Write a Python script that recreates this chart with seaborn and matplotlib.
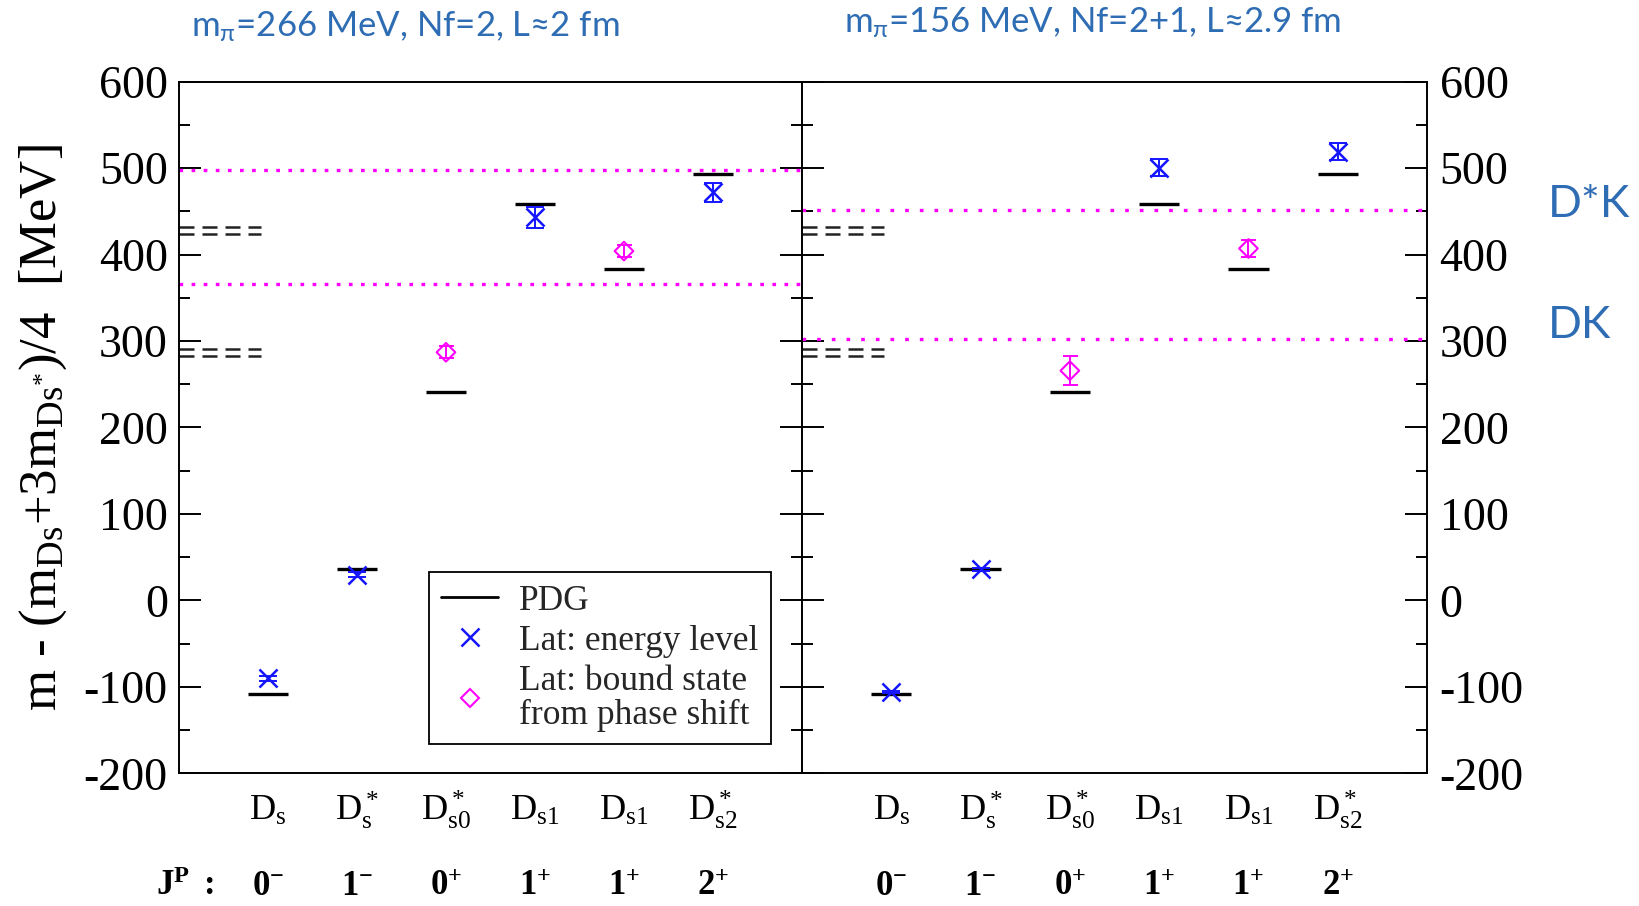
import numpy as np
import pandas as pd
import matplotlib
matplotlib.use("Agg")
import matplotlib.pyplot as plt
import seaborn as sns
from matplotlib.lines import Line2D
from matplotlib.ticker import MultipleLocator
from matplotlib.transforms import blended_transform_factory

# ---------------- data ----------------
positions = [1, 2, 3, 4, 5, 6]
state_labels = [r"$\mathrm{D_s}$", r"$\mathrm{D_s^*}$", r"$\mathrm{D_{s0}^*}$",
                r"$\mathrm{D_{s1}}$", r"$\mathrm{D_{s1}}$", r"$\mathrm{D_{s2}^*}$"]
jp_labels = [r"$\mathbf{0^{-}}$", r"$\mathbf{1^{-}}$", r"$\mathbf{0^{+}}$",
             r"$\mathbf{1^{+}}$", r"$\mathbf{1^{+}}$", r"$\mathbf{2^{+}}$"]
pdg = [-107.9, 36.0, 241.6, 458.9, 383.3, 492.9]

exp_thresholds = [282.3, 290.9, 424.3, 431.7]   # DK and D*K (physical)

left_level_pos = [1, 2, 4, 6]
left_level = [-90, 30, 443, 472]
left_level_err = [3, 3, 12.5, 11]
left_bound_pos = [3, 5]
left_bound = [287, 404]
left_bound_err = [7, 7]
left_thresholds = [498, 365.5]

right_level_pos = [1, 2, 4, 6]
right_level = [-106, 36, 500.6, 519]
right_level_err = [1.5, 1.5, 10, 10]
right_bound_pos = [3, 5]
right_bound = [265.7, 407]
right_bound_err = [17, 10]
right_thresholds = [451, 302]

titles = [r"m$_{\mathsf{\pi}}$=266 MeV, Nf=2, L≈2 fm",
          r"m$_{\mathsf{\pi}}$=156 MeV, Nf=2+1, L≈2.9 fm"]
legend_labels = ["PDG", "Lat: energy level", "Lat: bound state\nfrom phase shift"]
ylabel = r"m - (m$_{\mathrm{Ds}}$+3m$_{\mathrm{Ds}^{*}}$)/4  [MeV]"

BLUE = "#1515ff"
MAG = "#ff00ff"
TXT_BLUE = "#2e6db4"

# ---------------- style ----------------
sns.set_theme(style="ticks")
plt.rcParams["font.family"] = ["Liberation Serif", "DejaVu Serif"]
plt.rcParams["axes.unicode_minus"] = False
plt.rcParams["mathtext.fontset"] = "custom"
plt.rcParams["mathtext.rm"] = "Liberation Serif"
plt.rcParams["mathtext.it"] = "Liberation Serif:italic"
plt.rcParams["mathtext.bf"] = "Liberation Serif:bold"
plt.rcParams["mathtext.sf"] = "Lato"

fig = plt.figure(figsize=(16.39, 9.06), dpi=100)
ax1 = fig.add_axes([0.1092, 0.1463, 0.3801, 0.7637])
ax2 = fig.add_axes([0.4893, 0.1463, 0.3814, 0.7637])

panels = [
    (ax1, left_level_pos, left_level, left_level_err, left_bound_pos, left_bound,
     left_bound_err, left_thresholds, 1.15),
    (ax2, right_level_pos, right_level, right_level_err, right_bound_pos, right_bound,
     right_bound_err, right_thresholds, 1.5),
]

for (ax, lp, lv, le, bp, bv, be, thr, dotgap) in panels:
    ax.set_xlim(0, 7)
    ax.set_ylim(-200, 600)
    # thresholds in this lattice
    for t in thr:
        ax.axhline(t, color=MAG, lw=2.4, dashes=(1.1, dotgap * 2.2), zorder=1)
    # physical thresholds (double dashed)
    ax.hlines(exp_thresholds, 0, 0.92, colors="#222222", lw=1.8,
              linestyles=[(0, (6.0, 3.2))], zorder=1)
    # PDG
    pos = np.asarray(positions, dtype=float)
    ax.hlines(pdg, pos - 0.225, pos + 0.225, colors="black", lw=2.4, zorder=2)
    # lattice energy levels
    ax.errorbar(lp, lv, yerr=le, fmt="none", ecolor=BLUE, elinewidth=1.4,
                capsize=6.5, capthick=1.4, zorder=3)
    sns.scatterplot(x=lp, y=lv, marker="x", s=13 ** 2, color=BLUE,
                    linewidth=1.8, ax=ax, zorder=4, legend=False)
    # bound states
    ax.errorbar(bp, bv, yerr=be, fmt="none", ecolor=MAG, elinewidth=1.4,
                capsize=5.4, capthick=1.4, zorder=3)
    sns.scatterplot(x=bp, y=bv, marker="D", s=9.5 ** 2, color=MAG,
                    facecolor="none", edgecolor=MAG, linewidth=1.5,
                    ax=ax, zorder=4, legend=False)

    ax.yaxis.set_major_locator(MultipleLocator(100))
    ax.yaxis.set_minor_locator(MultipleLocator(50))
    ax.tick_params(axis="y", which="major", direction="in", length=15.8,
                   width=1.4, labelsize=33, color="black", labelcolor="black")
    ax.tick_params(axis="y", which="minor", direction="in", length=8,
                   width=1.4, color="black")
    ax.tick_params(axis="y", which="both", left=True, right=True)
    ax.set_xticks(positions, state_labels)
    ax.tick_params(axis="x", which="both", length=0, pad=33.5, labelsize=26,
                   labelcolor="black")
    for lbl in ax.get_xticklabels():
        lbl.set_va("baseline")
    for s in ax.spines.values():
        s.set_visible(True)
        s.set_linewidth(1.4)
        s.set_color("black")
    ax.set_ylabel("")
    ax.set_xlabel("")
    trans = blended_transform_factory(ax.transData, ax.transAxes)
    for x, lab in zip(positions, jp_labels):
        ax.text(x, -0.1756, lab, transform=trans, ha="center", va="baseline",
                fontsize=25, color="black")

ax1.tick_params(axis="y", which="both", labelleft=True, labelright=False, pad=8.0)
ax2.tick_params(axis="y", which="both", labelleft=False, labelright=True, pad=9.0)

trans1 = blended_transform_factory(ax1.transData, ax1.transAxes)
ax1.text(0.07, -0.1756, r"$\mathbf{J^{P}}$ $\mathbf{:}$", transform=trans1,
         ha="center", va="baseline", fontsize=25, color="black")

ax1.set_ylabel(ylabel, fontsize=38, color="black")
ax1.yaxis.set_label_coords(-0.176, 0.5)

handles = [
    Line2D([], [], color="black", lw=2),
    Line2D([], [], marker="x", ls="none", color=BLUE, ms=13, mew=1.8),
    Line2D([], [], marker="D", ls="none", mfc="none", mec=MAG, ms=9.5, mew=1.5),
]
leg = ax1.legend(handles, legend_labels, loc="upper left",
                 bbox_to_anchor=(0.401, 0.291), frameon=True, fancybox=False,
                 edgecolor="black", framealpha=1, fontsize=25.5, handlelength=1.6,
                 handletextpad=0.6, borderpad=0.35, labelspacing=0.2,
                 borderaxespad=0)
leg.get_frame().set_linewidth(1.3)
for t in leg.get_texts():
    t.set_linespacing(1.05)

fig.text(0.2471, 1 - 37 / 906, titles[0], fontsize=25, color=TXT_BLUE,
         family=["Lato", "DejaVu Sans"], ha="center", va="baseline")
fig.text(0.6667, 1 - 33 / 906, titles[1], fontsize=25, color=TXT_BLUE,
         family=["Lato", "DejaVu Sans"], ha="center", va="baseline")
fig.text(1548 / 1639, 1 - 217 / 906, "D*K", fontsize=32, color=TXT_BLUE,
         family=["Lato", "DejaVu Sans"], ha="left", va="baseline")
fig.text(1548 / 1639, 1 - 338 / 906, "DK", fontsize=32, color=TXT_BLUE,
         family=["Lato", "DejaVu Sans"], ha="left", va="baseline")

fig.savefig("out.png", dpi=100, facecolor="white")
